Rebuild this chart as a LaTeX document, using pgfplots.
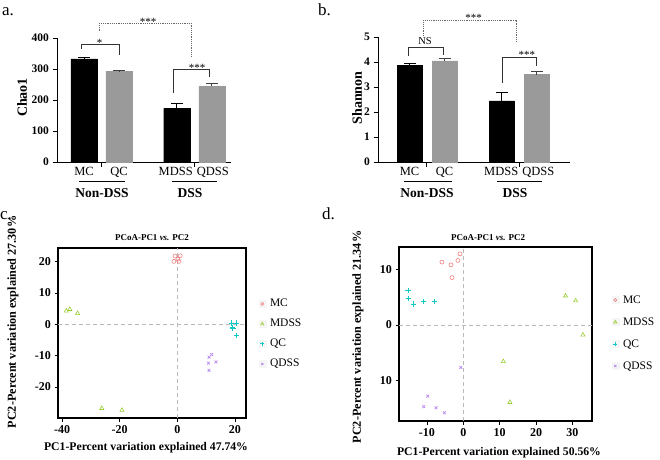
\documentclass[border=0pt]{standalone}
\usepackage{pgfplots}
\pgfplotsset{compat=1.18}
\usepackage{fontspec}
\setmainfont{Liberation Serif}
\newcommand{\fs}[1]{\fontsize{#1}{#1}\selectfont}
\definecolor{cMC}{HTML}{F08080}
\definecolor{cMDSS}{HTML}{9ACD32}
\definecolor{cQC}{HTML}{10C8C8}
\definecolor{cQDSS}{HTML}{B888EE}
\definecolor{bargray}{HTML}{9A9A9A}
\pgfplotsset{
  barax/.style={anchor=south west, scale only axis, clip=false,
    axis x line=bottom, axis y line=left, axis line style={line width=0.9pt,-},
    tick align=outside, major tick length=4.5pt, tick style={black,line width=0.8pt},
    xticklabels={}, ticklabel style={font=\fs{11.5}\bfseries},
    /pgf/number format/assume math mode=true},
  pcoa/.style={anchor=south west, scale only axis, clip=false,
    axis line style={line width=1.3pt}, tick pos=left, tick align=outside,
    major tick length=3.5pt, tick style={black,line width=0.8pt},
    ticklabel style={font=\fs{12}\bfseries},
    /pgf/number format/assume math mode=true,
    legend cell align=left,
    legend image code/.code={\fill[black!4] (2pt,-3.5pt) rectangle (9pt,3.5pt);
      \draw[##1, every mark/.append style={scale=0.75}] plot coordinates {(5.5pt,0pt)};},
  },
  blk/.style={ybar, bar width=#1, bar shift=0pt, fill=black, draw=black,
    error bars/.cd, y dir=plus, y explicit, error mark options={rotate=90, mark size=6pt, line width=0.9pt, black},
    error bar style={line width=0.9pt, black}},
  gry/.style={ybar, bar width=#1, bar shift=0pt, fill=bargray, draw=bargray,
    error bars/.cd, y dir=plus, y explicit, error mark options={rotate=90, mark size=6pt, line width=0.9pt, black!75},
    error bar style={line width=0.9pt, black!75}},
  mMC/.style={only marks, mark=o, mark size=2pt, mark options={cMC, line width=0.6pt}},
  mMDSS/.style={only marks, mark=triangle, mark size=2.4pt, mark options={cMDSS, line width=0.6pt}},
  mQC/.style={only marks, mark=+, mark size=2.6pt, mark options={cQC, line width=1pt}},
  mQDSS/.style={only marks, mark=x, mark size=2pt, mark options={cQDSS, line width=0.7pt}},
}
\begin{document}
\begin{tikzpicture}[x=1pt,y=1pt]
\useasboundingbox (0pt,0pt) rectangle (660pt,459pt);
% panel letters
\node[anchor=base west, inner sep=0, font=\fs{17}] at (2pt,443pt) {a.};
\node[anchor=base west, inner sep=0, font=\fs{17}] at (318pt,443pt) {b.};
\node[anchor=base west, inner sep=0, font=\fs{17}] at (0pt,240pt) {c.};
\node[anchor=base west, inner sep=0, font=\fs{17}] at (322pt,240pt) {d.};
% y labels of bar charts
\node[rotate=90, font=\fs{14}\bfseries] at (22pt,361.5pt) {Chao1};
\node[rotate=90, font=\fs{14}\bfseries] at (357pt,361pt) {Shannon};
% group labels (absolute)
\node[anchor=base, font=\fs{13.5}\bfseries] at (102pt,262pt) {Non-DSS};
\node[anchor=base, font=\fs{13.5}\bfseries] at (190pt,262pt) {DSS};
\node[anchor=base, font=\fs{13.5}\bfseries] at (427pt,262pt) {Non-DSS};
\node[anchor=base, font=\fs{13.5}\bfseries] at (515pt,262pt) {DSS};
\draw[line width=0.6pt] (79pt,278pt) -- (125pt,278pt);
\draw[line width=0.6pt] (172pt,278pt) -- (217pt,278pt);
\draw[line width=0.6pt] (404pt,278pt) -- (452pt,278pt);
\draw[line width=0.6pt] (497pt,278pt) -- (542pt,278pt);

% ---------------- panel a
\begin{axis}[barax, at={(57pt,297pt)}, width=174pt, height=124pt,
  xmin=0.229, xmax=5.2, ymin=0, ymax=400, ytick={0,100,...,400}, xtick={1.5,4.15}]
\addplot[blk=26pt] coordinates {(1,333) +- (0,3) (3.65,173) +- (0,15)};
\addplot[gry=26pt] coordinates {(2,293) +- (0,2) (4.65,244) +- (0,9)};
\node[anchor=base, font=\fs{12.5}, yshift=-13pt] at (axis cs:1,0) {MC};
\node[anchor=base, font=\fs{12.5}, yshift=-13pt] at (axis cs:2,0) {QC};
\node[anchor=base, font=\fs{12.5}, yshift=-13pt] at (axis cs:3.62,0) {MDSS};
\node[anchor=base, font=\fs{12.5}, yshift=-13pt] at (axis cs:4.68,0) {QDSS};
\draw[line width=0.6pt, black!80] (axis cs:0.934,366) |- (axis cs:2.009,380) -- (axis cs:2.009,345);
\node[anchor=base, inner sep=0, font=\fs{11}] at (axis cs:1.45,373) {*};
\draw[line width=0.6pt, black!80] (axis cs:3.54,223) |- (axis cs:4.57,299) -- (axis cs:4.57,274);
\node[anchor=base, inner sep=0, font=\fs{11}] at (axis cs:4.23,292) {***};
\draw[line width=0.6pt, black!60, dash pattern=on 1.2pt off 1pt] (axis cs:1.43,424) |- (axis cs:4.06,447) -- (axis cs:4.06,340);
\node[anchor=base, inner sep=0, font=\fs{11}] at (axis cs:2.83,441) {***};
\end{axis}

% ---------------- panel b
\begin{axis}[barax, at={(378pt,297pt)}, width=192pt, height=125pt,
  xmin=0.1, xmax=5.586, ymin=0, ymax=5, ytick={0,1,...,5}, xtick={1.49,4.14}]
\addplot[blk=25pt] coordinates {(1,3.88) +- (0,0.08) (3.64,2.45) +- (0,0.35)};
\addplot[gry=25pt] coordinates {(2,4.05) +- (0,0.1) (4.64,3.5) +- (0,0.13)};
\node[anchor=base, font=\fs{12.5}, yshift=-13pt] at (axis cs:1,0) {MC};
\node[anchor=base, font=\fs{12.5}, yshift=-13pt] at (axis cs:2,0) {QC};
\node[anchor=base, font=\fs{12.5}, yshift=-13pt] at (axis cs:3.62,0) {MDSS};
\node[anchor=base, font=\fs{12.5}, yshift=-13pt] at (axis cs:4.68,0) {QDSS};
\draw[line width=0.6pt, black!80] (axis cs:0.957,4.24) |- (axis cs:1.957,4.6) -- (axis cs:1.957,4.28);
\node[anchor=base, inner sep=0, font=\fs{10.5}] at (axis cs:1.443,4.7) {NS};
\draw[line width=0.6pt, black!80] (axis cs:3.64,3.16) |- (axis cs:4.61,4.2) -- (axis cs:4.61,3.84);
\node[anchor=base, inner sep=0, font=\fs{11}] at (axis cs:4.357,4.12) {***};
\draw[line width=0.6pt, black!60, dash pattern=on 1.2pt off 1pt] (axis cs:1.386,5.04) |- (axis cs:4.04,5.68) -- (axis cs:4.04,4.76);
\node[anchor=base, inner sep=0, font=\fs{11}] at (axis cs:2.83,5.6) {***};
\end{axis}

% ---------------- panel c
\node[font=\fs{9}\bfseries] at (152pt,221pt) {PCoA-PC1 \textit{vs.} PC2};
\node[font=\fs{11.7}\bfseries] at (146pt,11pt) {PC1-Percent variation explained 47.74\%};
\node[rotate=90, font=\fs{12.2}\bfseries] at (13pt,137pt) {PC2-Percent variation explained 27.30\%};
\begin{axis}[pcoa, at={(58pt,41pt)}, width=188pt, height=170pt,
  xmin=-41.39, xmax=23.82, ymin=-29.9, ymax=24.37,
  xtick={-40,-20,0,20}, ytick={-20,-10,0,10,20},
  legend style={draw=none, fill=none, at={(axis description cs:1.05,0.725)}, anchor=north west,
    font=\fs{11.5}, row sep=6pt, column sep=2pt, nodes={inner sep=2pt, text height=8pt, text depth=2pt}}]
\draw[gray!55, line width=0.8pt, dash pattern=on 4pt off 3pt] (axis cs:0,-29.9) -- (axis cs:0,24.37);
\draw[gray!55, line width=0.8pt, dash pattern=on 4pt off 3pt] (axis cs:-41.39,0) -- (axis cs:23.82,0);
\addplot[mMC] coordinates {(-1.2,20.1) (-0.8,21.8) (1.0,21.9) (0.6,20.1) (0.2,20.8)};
\addlegendentry{MC}
\addplot[mMDSS] coordinates {(-38.5,4.3) (-37.3,4.8) (-34.6,3.5) (-26.2,-26.8) (-19.2,-27.4)};
\addlegendentry{MDSS}
\addplot[mQC] coordinates {(18.8,0.4) (20.6,0.4) (19.0,-1.0) (19.3,-1.2) (20.5,-3.6)};
\addlegendentry{QC}
\addplot[mQDSS] coordinates {(11.9,-9.6) (11.0,-10.5) (13.4,-12.0) (10.8,-12.4) (11.0,-14.7)};
\addlegendentry{QDSS}
\end{axis}

% ---------------- panel d
\node[font=\fs{9}\bfseries] at (488pt,221pt) {PCoA-PC1 \textit{vs.} PC2};
\node[font=\fs{11.7}\bfseries] at (499pt,6pt) {PC1-Percent variation explained 50.56\%};
\node[rotate=90, font=\fs{12.2}\bfseries] at (358pt,122pt) {PC2-Percent variation explained 21.34\%};
\begin{axis}[pcoa, at={(399pt,38pt)}, width=193pt, height=174pt,
  xmin=-17.7, xmax=35.4, ymin=-17.4, ymax=14.14,
  xtick={-10,0,10,20,30}, ytick={-10,0,10}, yticklabels={10,0,10},
  legend style={draw=none, fill=none, at={(axis description cs:1.085,0.748)}, anchor=north west,
    font=\fs{11.5}, row sep=8pt, column sep=2pt, nodes={inner sep=2pt, text height=8pt, text depth=2pt}}]
\draw[gray!55, line width=0.8pt, dash pattern=on 4pt off 3pt] (axis cs:0,-17.4) -- (axis cs:0,14.14);
\draw[gray!55, line width=0.8pt, dash pattern=on 4pt off 3pt] (axis cs:-17.7,0) -- (axis cs:35.4,0);
\addplot[mMC] coordinates {(-5.9,11.4) (-3.4,10.9) (-1.5,11.7) (-0.9,12.9) (-3.1,8.6)};
\addlegendentry{MC}
\addplot[mMDSS] coordinates {(28.1,5.3) (30.9,4.4) (32.9,-1.8) (11.0,-6.6) (12.8,-14.0)};
\addlegendentry{MDSS}
\addplot[mQC] coordinates {(-15.2,6.2) (-15.0,4.8) (-13.7,3.8) (-10.9,4.3) (-7.9,4.3)};
\addlegendentry{QC}
\addplot[mQDSS] coordinates {(-0.7,-7.7) (-9.8,-12.9) (-10.9,-14.8) (-7.5,-15.0) (-5.2,-15.9)};
\addlegendentry{QDSS}
\end{axis}
\end{tikzpicture}
\end{document}
